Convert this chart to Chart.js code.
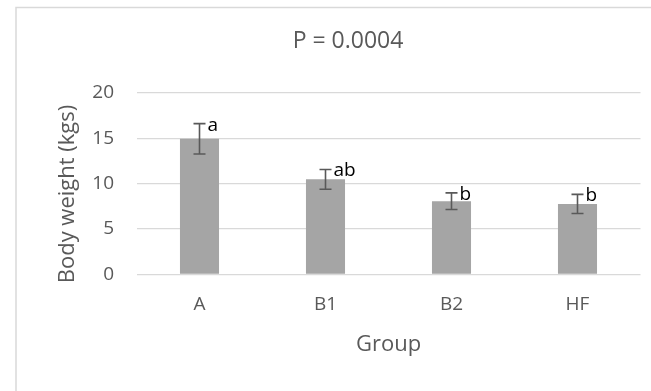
<!DOCTYPE html>
<html>
<head>
<meta charset="utf-8">
<script src="https://cdn.jsdelivr.net/npm/chart.js@4/dist/chart.umd.min.js"></script>
<style>
  html, body { margin: 0; padding: 0; background: #ffffff; overflow: hidden; }
  #wrap { position: relative; width: 651px; height: 391px; }
  canvas { position: absolute; left: 0; top: 0; }
</style>
</head>
<body>
<div id="wrap"><canvas id="c" width="651" height="391"></canvas></div>
<script>
const categories = ['A', 'B1', 'B2', 'HF'];
const means = [14.92, 10.46, 8.05, 7.75];
const errors = [1.67, 1.09, 0.92, 1.05];
const letters = ['a', 'ab', 'b', 'b'];
const yTicks = [0, 5, 10, 15, 20];
const chartTitle = 'P = 0.0004';
const xTitle = 'Group';
const yTitle = 'Body weight (kgs)';

const FONT = "'Open Sans', 'Noto Sans', sans-serif";
const GREY = '#595959';

const framePlugin = {
  id: 'frame',
  beforeDraw(chart) {
    const ctx = chart.ctx;
    ctx.save();
    ctx.strokeStyle = '#d9d9d9';
    ctx.lineWidth = 1.5;
    ctx.beginPath();
    ctx.moveTo(16, 400);
    ctx.lineTo(16, 7.5);
    ctx.lineTo(700, 7.5);
    ctx.stroke();
    // chart title (centred on the full chart frame, which runs past the right edge)
    ctx.fillStyle = GREY;
    ctx.font = "23px " + FONT;
    ctx.textAlign = 'center';
    ctx.textBaseline = 'middle';
    ctx.fillText(chartTitle, 348, 41);
    ctx.restore();
  }
};

const errorPlugin = {
  id: 'errbars',
  afterDatasetsDraw(chart) {
    const ctx = chart.ctx;
    const meta = chart.getDatasetMeta(0);
    const ys = chart.scales.y;
    ctx.save();
    meta.data.forEach((bar, i) => {
      const x = bar.x;
      const yt = ys.getPixelForValue(means[i] + errors[i]);
      const yb = ys.getPixelForValue(means[i] - errors[i]);
      ctx.strokeStyle = GREY;
      ctx.lineWidth = 1.6;
      ctx.beginPath();
      ctx.moveTo(x, yt); ctx.lineTo(x, yb);
      ctx.moveTo(x - 6, yt); ctx.lineTo(x + 6, yt);
      ctx.moveTo(x - 6, yb); ctx.lineTo(x + 6, yb);
      ctx.stroke();
      ctx.fillStyle = '#000000';
      ctx.font = "19px " + FONT;
      ctx.textAlign = 'left';
      ctx.textBaseline = 'alphabetic';
      ctx.fillText(letters[i], x + 8, yt + 7);
    });
    // y axis title
    ctx.translate(68, 194);
    ctx.rotate(-Math.PI / 2);
    ctx.fillStyle = GREY;
    ctx.font = "22px " + FONT;
    ctx.textAlign = 'center';
    ctx.textBaseline = 'middle';
    ctx.fillText(yTitle, 0, 0);
    ctx.restore();
  }
};

new Chart(document.getElementById('c'), {
  type: 'bar',
  data: {
    labels: categories,
    datasets: [{
      data: means,
      backgroundColor: '#a5a5a5',
      borderWidth: 0,
      categoryPercentage: 1.0,
      barPercentage: 0.31
    }]
  },
  options: {
    responsive: false,
    animation: false,
    devicePixelRatio: 1,
    layout: { padding: { top: 92.7, left: 0, right: 10.5, bottom: 0 } },
    plugins: {
      legend: { display: false },
      tooltip: { enabled: false },
      title: { display: false }
    },
    scales: {
      x: {
        grid: { display: false, drawTicks: false },
        border: { display: false },
        ticks: { color: GREY, font: { family: FONT, size: 19 }, padding: 19 },
        title: { display: true, text: xTitle, color: GREY, font: { family: FONT, size: 22 }, padding: { top: 0, bottom: 33 } },
        afterFit(scale) { scale.height = 116.7; }
      },
      y: {
        min: 0, max: 20,
        afterBuildTicks(scale) { scale.ticks = yTicks.map(v => ({ value: v })); },
        grid: { color: '#d9d9d9', lineWidth: 1.2, drawTicks: false },
        border: { display: false },
        ticks: { color: GREY, font: { family: FONT, size: 19 }, padding: 22.5 },
        afterFit(scale) { scale.width = 136.5; }
      }
    }
  },
  plugins: [framePlugin, errorPlugin]
});
</script>
</body>
</html>
